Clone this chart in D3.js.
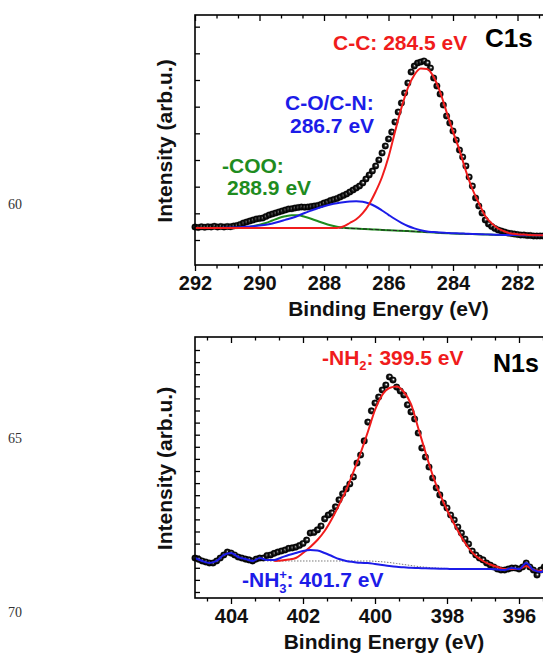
<!DOCTYPE html>
<html><head><meta charset="utf-8">
<script src="https://cdn.jsdelivr.net/npm/d3@7"></script>
<style>body{margin:0;background:#fff}svg{display:block}</style>
</head><body><svg id="chart" width="543" height="654"></svg>
<script>
// ---------- C1s panel data ----------
const c1sEnergy = [
292.0,291.9,291.8,291.7,291.6,291.5,291.4,291.3,291.2,291.1,
291.0,290.9,290.8,290.7,290.6,290.5,290.4,290.3,290.2,290.1,
290.0,289.9,289.8,289.7,289.6,289.5,289.4,289.3,289.2,289.1,
289.0,288.9,288.8,288.7,288.6,288.5,288.4,288.3,288.2,288.1,
288.0,287.9,287.8,287.7,287.6,287.5,287.4,287.3,287.2,287.1,
287.0,286.9,286.8,286.7,286.6,286.5,286.4,286.3,286.2,286.1,
286.0,285.9,285.8,285.7,285.6,285.5,285.4,285.3,285.2,285.1,
285.0,284.9,284.8,284.7,284.6,284.5,284.4,284.3,284.2,284.1,
284.0,283.9,283.8,283.7,283.6,283.5,283.4,283.3,283.2,283.1,
283.0,282.9,282.8,282.7,282.6,282.5,282.4,282.3,282.2,282.1,
282.0,281.9,281.8,281.7,281.6,281.5,281.4,281.3,281.2,281.1];
const c1sIntensity = [
15.2,15.0,15.3,15.1,15.3,15.2,15.5,15.2,15.4,15.2,
15.4,15.3,15.6,15.8,16.2,16.8,17.2,17.6,18.0,18.4,
18.6,18.8,19.4,20.0,20.4,20.8,21.2,21.6,22.0,22.4,
22.5,22.8,23.0,23.2,23.1,23.2,23.4,23.6,23.8,24.2,
24.8,25.2,25.8,26.2,26.6,27.2,27.8,28.4,29.2,30.0,
30.8,31.6,32.8,34.4,36.0,37.6,39.6,42.0,44.8,47.6,
50.4,53.2,57.2,61.2,64.8,68.8,72.8,77.2,79.6,80.8,
81.2,81.6,80.8,78.8,74.8,71.6,68.4,64.0,59.6,56.8,
53.6,50.0,46.0,43.2,39.6,35.2,31.6,26.8,23.6,20.8,
18.0,16.4,15.4,14.6,14.0,13.6,13.2,12.8,12.6,12.4,
12.2,12.0,12.0,11.8,11.8,11.6,11.6,11.6,11.6,11.6];
const c1sFitEnergy = [
292.0,291.8,291.6,291.4,291.2,291.0,290.8,290.6,290.4,290.2,
290.0,289.8,289.6,289.4,289.2,289.0,288.8,288.6,288.4,288.2,
288.0,287.8,287.6,287.4,287.2,287.0,286.8,286.6,286.4,286.2,
286.0,285.8,285.6,285.4,285.2,285.0,284.8,284.6,284.4,284.2,
284.0,283.8,283.6,283.4,283.2,283.0,282.8,282.6,282.4,282.2,
282.0,281.8,281.6,281.4,281.2,281.0];
const c1sBackground = [
14.8,14.8,14.8,14.8,14.8,14.8,14.8,14.8,14.8,14.8,
14.8,14.8,14.8,14.8,14.8,14.8,14.8,14.8,14.8,14.8,
14.8,14.8,14.8,14.76,14.68,14.56,14.44,14.32,14.16,14.04,
13.92,13.8,13.68,13.56,13.44,13.28,13.12,12.96,12.84,12.72,
12.6,12.52,12.44,12.36,12.28,12.2,12.12,12.04,12.0,11.96,
11.94,11.92,11.9,11.88,11.88,11.88];
const c1sCOO = [
14.8,14.8,14.8,14.8,14.8,14.8,14.8,14.88,15.08,15.52,
16.08,16.8,17.8,18.8,19.48,19.92,19.92,19.28,18.48,17.6,
16.68,15.88,15.28,14.88,14.68,14.56,14.44,14.32,14.16,14.04,
13.92,13.8,13.68,13.56,13.44,13.28,13.12,12.96,12.84,12.72,
12.6,12.52,12.44,12.36,12.28,12.2,12.12,12.04,12.0,11.96,
11.94,11.92,11.9,11.88,11.88,11.88];
const c1sCO = [
14.8,14.8,14.8,14.8,14.84,14.88,14.96,15.08,15.28,15.52,
15.8,16.08,16.6,17.28,18.04,18.8,19.72,20.8,21.76,22.72,
23.52,24.2,24.72,25.08,25.36,25.48,25.28,24.6,23.4,21.8,
20.08,18.4,16.88,15.6,14.64,13.88,13.36,13.2,13.0,12.85,
12.7,12.62,12.52,12.42,12.34,12.25,12.16,12.07,12.02,11.98,
11.95,11.93,11.91,11.89,11.88,11.88];
const c1sCC = [
14.8,14.8,14.8,14.8,14.8,14.8,14.8,14.8,14.8,14.8,
14.8,14.8,14.8,14.8,14.8,14.8,14.8,14.8,14.8,14.8,
14.8,14.8,14.84,15.4,16.8,18.28,20.72,24.32,29.28,35.2,
43.2,53.2,62.8,70.8,76.0,78.56,78.4,75.2,69.2,61.2,
53.36,46.0,37.6,30.4,24.8,19.6,16.64,14.6,13.4,12.6,
12.32,12.16,12.0,11.92,11.88,11.84];
const c1sMajorTicks = [292,290,288,286,284,282,280];
const c1sTickLabels = ["292","290","288","286","284","282",""];
const c1sMinorTicks = [291.333,290.667,289.333,288.667,287.333,286.667,285.333,284.667,283.333,282.667,281.333,280.667];
const c1sYTicks = [10,20.67,31.33,42,52.67,63.33,74,84.67,95.33];

// ---------- N1s panel data ----------
const n1sEnergy = [
405.0,404.9,404.8,404.7,404.6,404.5,404.4,404.3,404.2,404.1,
404.0,403.9,403.8,403.7,403.6,403.5,403.4,403.3,403.2,403.1,
403.0,402.9,402.8,402.7,402.6,402.5,402.4,402.3,402.2,402.1,
402.0,401.9,401.8,401.7,401.6,401.5,401.4,401.3,401.2,401.1,
401.0,400.9,400.8,400.7,400.6,400.5,400.4,400.3,400.2,400.1,
400.0,399.9,399.8,399.7,399.6,399.5,399.4,399.3,399.2,399.1,
399.0,398.9,398.8,398.7,398.6,398.5,398.4,398.3,398.2,398.1,
398.0,397.9,397.8,397.7,397.6,397.5,397.4,397.3,397.2,397.1,
397.0,396.9,396.8,396.7,396.6,396.5,396.4,396.3,396.2,396.1,
396.0,395.9,395.8,395.7,395.6,395.5,395.4,395.3];
const n1sIntensity = [
15.3,14.8,14.2,13.8,13.4,13.4,14.2,15.3,16.5,17.6,
17.2,16.5,15.7,15.3,14.9,14.6,14.2,14.9,15.3,15.3,
16.3,16.5,17.1,17.6,18.0,18.4,19.0,19.2,19.5,20.1,
20.9,22.2,24.9,25.1,26.1,27.6,30.3,31.8,32.6,34.9,
37.6,39.9,41.8,43.7,46.4,51.7,54.8,60.2,67.4,71.7,
74.7,77.0,79.7,81.6,84.7,83.5,80.8,79.3,77.8,74.0,
71.3,68.6,63.2,57.5,54.0,50.2,46.0,42.2,39.5,36.4,
34.5,31.8,29.9,27.2,24.9,22.6,20.7,18.0,16.5,15.3,
14.6,13.4,12.6,11.9,11.1,10.7,10.7,11.1,11.5,11.5,
11.1,11.9,13.4,11.9,10.7,8.8,10.7,11.9];
const n1sFitEnergy = [
405.0,404.8,404.6,404.4,404.2,404.0,403.8,403.6,403.4,403.2,
403.0,402.8,402.6,402.4,402.2,402.0,401.8,401.6,401.4,401.2,
401.0,400.8,400.6,400.4,400.2,400.0,399.8,399.6,399.4,399.2,
399.0,398.8,398.6,398.4,398.2,398.0,397.8,397.6,397.4,397.2,
397.0,396.8,396.6,396.4,396.2,396.0,395.8,395.6,395.4,395.2,
395.0];
const n1sBackground = [
null,null,null,null,null,null,null,null,null,null,
14.18,14.18,14.18,14.18,14.18,14.18,14.18,14.18,14.18,14.18,
14.18,14.18,14.18,14.18,14.18,14.06,13.87,13.6,13.22,12.84,
12.45,12.07,11.8,11.57,11.42,11.3,11.23,11.15,11.11,11.11,
11.11,11.11,11.11,11.11,11.11,null,null,null,null,null,
null];
const n1sNH3 = [
15.33,14.18,13.41,14.18,16.48,17.24,15.71,14.94,14.18,15.33,
14.56,14.56,15.52,16.48,17.24,18.01,18.39,18.2,17.24,16.09,
14.94,14.18,13.79,13.49,13.41,13.03,12.64,12.26,11.95,11.76,
11.57,11.49,11.38,11.3,11.23,11.19,11.11,11.11,11.11,11.11,
11.11,11.11,10.92,10.73,11.49,11.11,13.41,10.73,9.96,11.49,
11.49];
const n1sNH2 = [
null,null,null,null,null,null,null,null,null,null,
null,14.18,14.37,14.75,15.33,17.24,19.54,22.22,25.67,30.27,
35.63,41.38,48.28,55.56,63.6,72.03,77.78,80.46,81.03,78.93,
74.33,65.13,55.94,47.13,39.85,33.72,28.35,23.37,19.16,16.09,
14.18,12.84,11.88,11.11,11.11,11.11,12.26,10.73,10.34,11.11,
11.11];
const n1sMajorTicks = [404,402,400,398,396];
const n1sTickLabels = ["404","402","400","398","396"];
const n1sMinorTicks = [404.667,403.333,402.667,401.333,400.667,399.333,398.667,397.333,396.667,395.333,394.667];
const n1sYTicks = [2.3,6.94,11.57,16.21,20.84,25.48,30.12,34.75,39.39,44.02,48.66,53.3,57.93,62.57,67.2,71.84,76.48,81.11,85.75,90.38,95.02];

const lineNumbers = ["60","65","70"];

// ---------- drawing ----------
const FONT = "'Liberation Sans', Arial, Helvetica, sans-serif";
const RED = "#f01c1c", BLUE = "#1c1ce8", GREEN = "#1f8c1f";
const svg = d3.select("#chart");
svg.append("rect").attr("width",543).attr("height",654).attr("fill","#fff");

const defs = svg.append("defs");
const grad = defs.append("radialGradient").attr("id","ball")
  .attr("cx","50%").attr("cy","50%").attr("r","50%").attr("fx","60%").attr("fy","40%");
grad.append("stop").attr("offset","0%").attr("stop-color","#ffffff");
grad.append("stop").attr("offset","14%").attr("stop-color","#dcdcdc");
grad.append("stop").attr("offset","38%").attr("stop-color","#3a3a3a");
grad.append("stop").attr("offset","65%").attr("stop-color","#0c0c0c");
grad.append("stop").attr("offset","100%").attr("stop-color","#000000");

function drawPanel(o){
  const x = d3.scaleLinear().domain(o.xDomain).range([o.left, o.right]);
  const y = d3.scaleLinear().domain([0,100]).range([o.bottom, o.top]);
  const g = svg.append("g");

  const mkLine = (E) => d3.line()
    .defined(d=>d!=null)
    .x((d,i)=>x(E[i])).y(d=>y(d))
    .curve(d3.curveMonotoneX);

  // data points
  g.append("g").selectAll("circle").data(o.data).join("circle")
    .attr("cx",(d,i)=>x(o.energy[i])).attr("cy",d=>y(d))
    .attr("r",3.3).attr("fill","url(#ball)")
    .attr("stroke","#000").attr("stroke-width",0.3);

  // fitted curves
  o.curves.forEach(c=>{
    g.append("path").datum(c.values)
      .attr("d",mkLine(o.fitEnergy))
      .attr("fill","none").attr("stroke",c.color)
      .attr("stroke-width",c.width)
      .attr("stroke-dasharray",c.dash||null);
  });

  // axes
  const styleAxis = sel => { sel.select(".domain").remove(); sel.selectAll("line").attr("stroke","#000").attr("stroke-width",1.3); };
  g.append("g").attr("transform",`translate(0,${o.bottom})`)
    .call(d3.axisBottom(x).tickValues(o.major).tickSize(6).tickPadding(5).tickFormat((d,i)=>o.labels[i]))
    .call(styleAxis)
    .call(s=>s.selectAll("text").attr("font-family",FONT).attr("font-weight","bold").attr("font-size",20).attr("fill","#111"));
  g.append("g").attr("transform",`translate(0,${o.bottom})`)
    .call(d3.axisBottom(x).tickValues(o.minor).tickSize(3.5).tickFormat(""))
    .call(styleAxis);
  g.append("g").attr("transform",`translate(0,${o.top})`)
    .call(d3.axisTop(x).tickValues(o.major).tickSize(-6).tickFormat(""))
    .call(styleAxis);
  g.append("g").attr("transform",`translate(0,${o.top})`)
    .call(d3.axisTop(x).tickValues(o.minor).tickSize(-3.5).tickFormat(""))
    .call(styleAxis);
  g.append("g").attr("transform",`translate(${o.left},0)`)
    .call(d3.axisLeft(y).tickValues(o.yTicks).tickSize(-5).tickFormat(""))
    .call(styleAxis);

  // frame
  g.append("rect").attr("x",o.left).attr("y",o.top)
    .attr("width",o.right-o.left).attr("height",o.bottom-o.top)
    .attr("fill","none").attr("stroke","#000").attr("stroke-width",1.6);

  // axis titles
  g.append("text").attr("x",(o.left+o.right)/2).attr("y",o.bottom+51)
    .attr("text-anchor","middle").attr("font-family",FONT).attr("font-weight","bold")
    .attr("font-size",21).attr("fill","#111").text("Binding Energy (eV)");
  g.append("text").attr("transform",`translate(172,${(o.top+o.bottom)/2+1}) rotate(-90)`)
    .attr("text-anchor","middle").attr("font-family",FONT).attr("font-weight","bold")
    .attr("font-size",21).attr("fill","#111").text("Intensity (arb.u.)");
  return g;
}

const gC = drawPanel({
  xDomain:[292,280], left:195, right:582, top:15, bottom:265,
  energy:c1sEnergy, data:c1sIntensity, fitEnergy:c1sFitEnergy,
  curves:[
    {values:c1sCOO, color:GREEN, width:2},
    {values:c1sBackground, color:"#222", width:1, dash:"4,2"},
    {values:c1sCO, color:BLUE, width:2},
    {values:c1sCC, color:RED, width:2}
  ],
  major:c1sMajorTicks, labels:c1sTickLabels, minor:c1sMinorTicks, yTicks:c1sYTicks
});

const gN = drawPanel({
  xDomain:[405,394.5], left:195, right:573, top:337, bottom:598,
  energy:n1sEnergy, data:n1sIntensity, fitEnergy:n1sFitEnergy,
  curves:[
    {values:n1sBackground, color:"#777", width:1, dash:"1.5,1.5"},
    {values:n1sNH2, color:RED, width:2},
    {values:n1sNH3, color:BLUE, width:2}
  ],
  major:n1sMajorTicks, labels:n1sTickLabels, minor:n1sMinorTicks, yTicks:n1sYTicks
});

// annotations
function label(g, x, y, size, color, txt){
  return g.append("text").attr("x",x).attr("y",y).attr("font-family",FONT)
    .attr("font-weight","bold").attr("font-size",size).attr("fill",color).text(txt);
}
label(gC,333,50,21,RED,"C-C: 284.5 eV");
label(gC,485,47,26,"#000","C1s");
label(gC,285,110,21,BLUE,"C-O/C-N:");
label(gC,290,133,21,BLUE,"286.7 eV");
label(gC,222,173,21,GREEN,"-COO:");
label(gC,227,195,21,GREEN,"288.9 eV");

const nh2 = label(gN,322,365,21,RED,"-NH");
nh2.append("tspan").attr("font-size",13).attr("dy",5).text("2");
nh2.append("tspan").attr("dy",-5).text(": 399.5 eV");
label(gN,493,372,25,"#000","N1s");
const nh3 = label(gN,242,587,21,BLUE,"-NH");
nh3.append("tspan").attr("font-size",13).attr("dy",-8).text("+");
nh3.append("tspan").attr("font-size",13).attr("dx",-7.6).attr("dy",14).text("3");
nh3.append("tspan").attr("dy",-6).text(": 401.7 eV");

// manuscript line numbers
const lnY = [209,443,617];
svg.selectAll("text.ln").data(lineNumbers).join("text").attr("class","ln")
  .attr("x",8).attr("y",(d,i)=>lnY[i])
  .attr("font-family","'Liberation Serif', 'Times New Roman', serif")
  .attr("font-size",14).attr("fill","#333").text(d=>d);
</script></body></html>
